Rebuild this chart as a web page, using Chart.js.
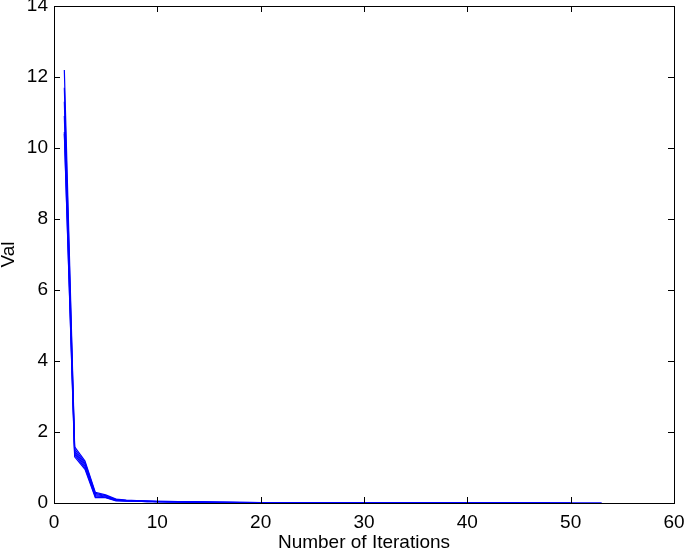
<!DOCTYPE html>
<html>
<head>
<meta charset="utf-8">
<script src="https://cdn.jsdelivr.net/npm/chart.js@4.4.1/dist/chart.umd.min.js"></script>
<style>
html,body{margin:0;padding:0;background:#fff;}
#wrap{position:relative;width:685px;height:552px;}
</style>
</head>
<body>
<div id="wrap"><canvas id="c" width="685" height="552"></canvas></div>
<script>
// Data
const xTicks = [0, 10, 20, 30, 40, 50, 60];
const yTicks = [0, 2, 4, 6, 8, 10, 12, 14];
const xLabel = 'Number of Iterations';
const yLabel = 'Val';

const run1 = [12.2, 1.58, 1.18, 0.30, 0.23, 0.11, 0.08, 0.07, 0.06, 0.05, 0.05, 0.04, 0.04, 0.03, 0.03, 0.02, 0.02, 0.02, 0.015, 0.012, 0.01, 0.01, 0.008, 0.007, 0.006, 0.005, 0.005, 0.004, 0.004, 0.003, 0.003, 0.003, 0.002, 0.002, 0.002, 0.002, 0.001, 0.001, 0.001, 0.001, 0.001, 0.001, 0.001, 0.001, 0.001, 0.001, 0.001, 0.001, 0.001, 0.001, 0.001, 0.001, 0.001];
const run2 = [11.7, 1.52, 1.13, 0.27, 0.21, 0.10, 0.07, 0.06, 0.05, 0.05, 0.04, 0.04, 0.03, 0.03, 0.02, 0.02, 0.02, 0.015, 0.012, 0.01, 0.01, 0.008, 0.007, 0.006, 0.005, 0.005, 0.004, 0.004, 0.003, 0.003, 0.003, 0.002, 0.002, 0.002, 0.002, 0.001, 0.001, 0.001, 0.001, 0.001, 0.001, 0.001, 0.001, 0.001, 0.001, 0.001, 0.001, 0.001, 0.001, 0.001];
const run3 = [11.3, 1.46, 1.09, 0.24, 0.19, 0.09, 0.07, 0.06, 0.05, 0.04, 0.04, 0.03, 0.03, 0.03, 0.02, 0.02, 0.015, 0.012, 0.01, 0.01, 0.008, 0.007, 0.006, 0.005, 0.005, 0.004, 0.004, 0.003, 0.003, 0.003, 0.002, 0.002, 0.002, 0.002, 0.001, 0.001, 0.001, 0.001, 0.001, 0.001, 0.001, 0.001, 0.001, 0.001, 0.001, 0.001, 0.001, 0.001];
const run4 = [10.9, 1.41, 1.04, 0.21, 0.17, 0.08, 0.06, 0.05, 0.05, 0.04, 0.04, 0.03, 0.03, 0.02, 0.02, 0.02, 0.015, 0.012, 0.01, 0.008, 0.007, 0.006, 0.005, 0.005, 0.004, 0.004, 0.003, 0.003, 0.003, 0.002, 0.002, 0.002, 0.002, 0.001, 0.001, 0.001, 0.001, 0.001, 0.001, 0.001, 0.001, 0.001, 0.001, 0.001, 0.001];
const run5 = [10.45, 1.36, 0.99, 0.18, 0.16, 0.07, 0.06, 0.05, 0.04, 0.04, 0.03, 0.03, 0.03, 0.02, 0.02, 0.015, 0.012, 0.01, 0.01, 0.008, 0.007, 0.006, 0.005, 0.005, 0.004, 0.004, 0.003, 0.003, 0.003, 0.002, 0.002, 0.002, 0.002, 0.001, 0.001, 0.001, 0.001, 0.001, 0.001, 0.001, 0.001, 0.001];
const run6 = [10.4, 1.30, 0.95, 0.15, 0.15, 0.06, 0.05, 0.05, 0.04, 0.04, 0.03, 0.03, 0.02, 0.02, 0.02, 0.015, 0.012, 0.01, 0.008, 0.007, 0.006, 0.005, 0.005, 0.004, 0.004, 0.003, 0.003, 0.003, 0.002, 0.002, 0.002, 0.002, 0.001, 0.001, 0.001, 0.001, 0.001, 0.001, 0.001, 0.001];
const runs = [run1, run2, run3, run4, run5, run6];

const FONT = '"Liberation Sans", Arial, Helvetica, sans-serif';

const datasets = runs.map(r => ({
  data: r.map((v, i) => ({x: i + 1, y: v})),
  borderColor: '#0000ff',
  borderWidth: 1.2,
  pointRadius: 0,
  fill: false,
  tension: 0
}));

const boxPlugin = {
  id: 'matlabBox',
  afterDraw(chart) {
    const {ctx, chartArea: a, scales: {x, y}} = chart;
    ctx.save();
    ctx.strokeStyle = '#000';
    ctx.lineWidth = 1;
    ctx.strokeRect(Math.round(a.left) + 0.5, Math.round(a.top) + 0.5,
                   Math.round(a.right - a.left), Math.round(a.bottom - a.top));
    const L = 6;
    ctx.beginPath();
    xTicks.forEach(t => {
      const px = Math.round(x.getPixelForValue(t)) + 0.5;
      ctx.moveTo(px, a.bottom); ctx.lineTo(px, a.bottom - L);
      ctx.moveTo(px, a.top); ctx.lineTo(px, a.top + L);
    });
    yTicks.forEach(t => {
      const py = Math.round(y.getPixelForValue(t)) + 0.5;
      ctx.moveTo(a.left, py); ctx.lineTo(a.left + L, py);
      ctx.moveTo(a.right, py); ctx.lineTo(a.right - L, py);
    });
    ctx.stroke();
    ctx.restore();
  }
};

new Chart(document.getElementById('c'), {
  type: 'line',
  data: {datasets},
  options: {
    responsive: false,
    animation: false,
    events: [],
    layout: {padding: {left: 0, right: 11, top: 6, bottom: 0}},
    plugins: {legend: {display: false}, tooltip: {enabled: false}},
    scales: {
      x: {
        type: 'linear', min: 0, max: 60,
        afterBuildTicks: s => { s.ticks = xTicks.map(v => ({value: v})); },
        afterFit: s => { s.height = 49; s.paddingLeft = 0; s.paddingRight = 0; },
        grid: {display: false, drawTicks: false},
        border: {display: false},
        ticks: {color: '#000', font: {family: FONT, size: 19}, padding: 8, maxRotation: 0},
        title: {display: true, text: xLabel, color: '#000', font: {family: FONT, size: 19, lineHeight: 1}, padding: {top: 0, bottom: 0}}
      },
      y: {
        type: 'linear', min: 0, max: 14,
        afterBuildTicks: s => { s.ticks = yTicks.map(v => ({value: v})); },
        afterFit: s => { s.width = 54; s.paddingTop = 0; s.paddingBottom = 0; },
        grid: {display: false, drawTicks: false},
        border: {display: false},
        ticks: {color: '#000', font: {family: FONT, size: 19}, padding: 6},
        title: {display: true, text: yLabel, color: '#000', font: {family: FONT, size: 19, lineHeight: 1}, padding: {top: -1, bottom: 0}}
      }
    }
  },
  plugins: [boxPlugin]
});
</script>
</body>
</html>
